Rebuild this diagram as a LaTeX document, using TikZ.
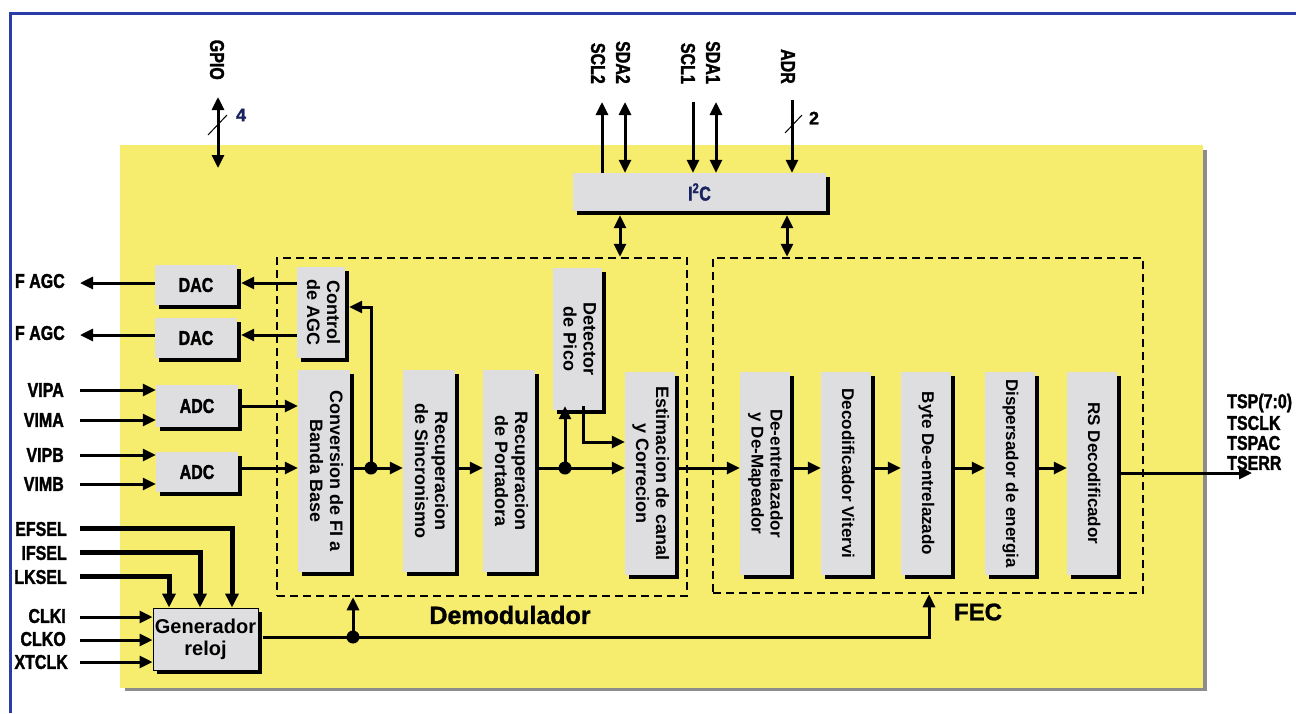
\documentclass[tikz,border=0pt]{standalone}
\usepackage{fontspec}
\setmainfont{Liberation Sans}
\newfontfamily\cond[FakeStretch=0.8,FakeBold=1.5]{Liberation Sans}
\newfontfamily\heavyfont[FakeBold=1.2]{Liberation Sans}
\usepackage{graphicx}
\usetikzlibrary{arrows.meta,shadows}
\definecolor{bgyellow}{RGB}{246,236,110}
\definecolor{boxgray}{RGB}{222,222,224}
\definecolor{frameblue}{RGB}{40,60,170}
\definecolor{navy}{RGB}{25,35,95}
\newcommand{\vstack}[1]{\rotatebox{-90}{\begin{tabular}{@{}c@{}}#1\end{tabular}}}
\tikzset{
 tip/.tip={Triangle[length=13pt,width=12pt]},
 pin/.style={line width=3pt, -tip},
 dpin/.style={line width=3pt, tip-tip},
 wire/.style={line width=3pt},
 heavy/.style={line width=5pt, -{Triangle[length=14pt,width=13pt]}},
 blk/.style={fill=boxgray, inner sep=0pt, drop shadow={shadow xshift=4pt, shadow yshift=-4pt, fill=black, opacity=1}},
 dashbox/.style={draw=black, line width=2.5pt, dash pattern=on 8pt off 5pt, inner sep=0pt},
 lbl/.style={font=\cond\bfseries\fontsize{20}{22}\selectfont, inner sep=0pt},
 vtxt/.style={font=\bfseries\fontsize{18}{20}\selectfont},
 ftxt/.style={font=\bfseries\fontsize{17}{19}\selectfont},
 jdot/.style={circle, fill=black, minimum size=13pt, inner sep=0pt},
 slash/.style={line width=1pt},
}
\begin{document}
\begin{tikzpicture}[x=1pt,y=-1pt]
\useasboundingbox (0,0) rectangle (1296,713);
% background
\fill[bgyellow] (120,145) rectangle (1203,688);
\fill[black!45] (1203,150) rectangle (1207,691);
\fill[black!45] (125,688) rectangle (1207,691);
\draw[frameblue, line width=3pt] (1296,13) -- (10,13) -- (10,713);

% dashed groups
\node[dashbox, minimum width=410pt, minimum height=338pt] (demod) at (482,427) {};
\node[dashbox, minimum width=430pt, minimum height=335pt] (fec) at (928,425.5) {};

% blocks
\node[blk, minimum width=82pt, minimum height=40pt, lbl] (dac1) at (196,285) {DAC};
\node[blk, minimum width=82pt, minimum height=40pt, lbl] (dac2) at (196,338) {DAC};
\node[blk, minimum width=82pt, minimum height=42pt, lbl] (adc1) at (197,406) {ADC};
\node[blk, minimum width=82pt, minimum height=40pt, lbl] (adc2) at (197,472) {ADC};
\node[blk, minimum width=253pt, minimum height=38pt, lbl, text=navy] (i2c) at (699.5,192) {I\textsuperscript{2}C};

\node[blk, minimum width=48pt, minimum height=91pt, vtxt] (ctrl) at (321,312.5) {\vstack{Control\\de AGC}};
\node[blk, minimum width=52pt, minimum height=202pt, vtxt] (conv) at (324,471) {\vstack{Conversion de FI a\\Banda Base}};
\node[blk, minimum width=52pt, minimum height=202pt, vtxt] (sinc) at (429,471) {\vstack{Recuperacion\\de Sincronismo}};
\node[blk, minimum width=52pt, minimum height=202pt, vtxt] (port) at (509,471) {\vstack{Recuperacion\\de Portadora}};
\node[blk, minimum width=49pt, minimum height=142pt, vtxt] (det) at (577.5,339) {\vstack{Detector\\de Pico}};
\node[blk, minimum width=50pt, minimum height=203pt, vtxt] (est) at (650,473.5) {\vstack{Estimacion de canal\\y Correcion}};

\node[blk, minimum width=50pt, minimum height=203pt, ftxt] (f1) at (765,473.5) {\vstack{De-entrelazador\\y De-Mapeador}};
\node[blk, minimum width=50pt, minimum height=203pt, ftxt] (f2) at (846,473.5) {\vstack{Decodificador Vitervi}};
\node[blk, minimum width=50pt, minimum height=203pt, ftxt] (f3) at (926,473.5) {\vstack{Byte De-entrelazado}};
\node[blk, minimum width=50pt, minimum height=203pt, ftxt] (f4) at (1010,473.5) {\vstack{Dispersador de energia}};
\node[blk, minimum width=50pt, minimum height=203pt, ftxt] (f5) at (1092,473.5) {\vstack{RS Decodificador}};

\node[blk, draw=black, line width=1pt, minimum width=105pt, minimum height=62pt, font=\bfseries\fontsize{20}{22}\selectfont, align=center] (gen) at (205.5,639) {Generador\\reloj};

% group labels
\node[font=\heavyfont\bfseries\fontsize{25}{27}\selectfont, inner sep=0pt] (demodlbl) at (510,615) {Demodulador};
\node[font=\heavyfont\bfseries\fontsize{24}{26}\selectfont, inner sep=0pt] (feclbl) at (978,612) {FEC};

% top labels
\node[lbl, rotate=-90, anchor=east] (gpio) at (217,80) {GPIO};
\node[lbl, rotate=-90, anchor=east] (scl2) at (598,84) {SCL2};
\node[lbl, rotate=-90, anchor=east] (sda2) at (623,84) {SDA2};
\node[lbl, rotate=-90, anchor=east] (scl1) at (688,84) {SCL1};
\node[lbl, rotate=-90, anchor=east] (sda1) at (713,84) {SDA1};
\node[lbl, rotate=-90, anchor=east] (adr) at (788,84) {ADR};
\node[font=\heavyfont\bfseries\fontsize{18}{20}\selectfont, text=navy, inner sep=0pt] (n4) at (241,115) {4};
\node[font=\heavyfont\bfseries\fontsize{18}{20}\selectfont, inner sep=0pt] (n2) at (814,118) {2};

% left labels
\node[lbl, anchor=east] (fagc1) at (65,281) {F AGC};
\node[lbl, anchor=east] (fagc2) at (65,333) {F AGC};
\node[lbl, anchor=east] (vipa) at (64,390) {VIPA};
\node[lbl, anchor=east] (vima) at (64,420) {VIMA};
\node[lbl, anchor=east] (vipb) at (64,455) {VIPB};
\node[lbl, anchor=east] (vimb) at (64,484) {VIMB};
\node[lbl, anchor=east] (efsel) at (67,529) {EFSEL};
\node[lbl, anchor=east] (ifsel) at (67,553) {IFSEL};
\node[lbl, anchor=east] (lksel) at (67,577) {LKSEL};
\node[lbl, anchor=east] (clki) at (66,616) {CLKI};
\node[lbl, anchor=east] (clko) at (66,639) {CLKO};
\node[lbl, anchor=east] (xtclk) at (68,662) {XTCLK};

% right labels
\node[lbl, anchor=west] (tsp) at (1227,403) {TSP(7:0)};
\node[lbl, anchor=west] (tsclk) at (1227,423) {TSCLK};
\node[lbl, anchor=west] (tspac) at (1227,443) {TSPAC};
\node[lbl, anchor=west] (tserr) at (1227,463) {TSERR};

% ---- coordinates
\coordinate (gpioT) at (218,97);
\coordinate (gpioB) at (218,168);
\coordinate (scl2T) at (602,102);
\coordinate (sda2T) at (625,102);
\coordinate (scl1T) at (693,102);
\coordinate (sda1T) at (716,102);
\coordinate (adrT) at (792,100);
\coordinate (bd) at (620,0);
\coordinate (bf) at (787,0);
\coordinate (fagc1p) at (80,283);
\coordinate (fagc2p) at (80,335);
\coordinate (vipap) at (80,390);
\coordinate (vimap) at (80,420);
\coordinate (vipbp) at (80,455);
\coordinate (vimbp) at (80,484);
\coordinate (efsA) at (80,528);
\coordinate (efsB) at (232,528);
\coordinate (ifsA) at (80,552);
\coordinate (ifsB) at (200,552);
\coordinate (lksA) at (80,576);
\coordinate (lksB) at (169,576);
\coordinate (clkip) at (80,617);
\coordinate (clkop) at (80,640);
\coordinate (xtclkp) at (80,662);
\coordinate (row) at (0,468);
\coordinate (fb) at (371,307);
\node[jdot] (j1) at (371,468) {};
\node[jdot] (j2) at (565,468) {};
\coordinate (dk) at (583,442);
\coordinate (outp) at (1252,473);
\coordinate (gy) at (0,637);
\node[jdot] (j3) at (353,637) {};
\coordinate (gf) at (929,637);

% ---- connectors
\draw[dpin] (gpioT) -- (gpioB);
\draw[slash] (208,135) -- (227,115);
\draw[pin] (i2c.north -| scl2T) -- (scl2T);
\draw[dpin] (sda2T) -- (i2c.north -| sda2T);
\draw[pin] (scl1T) -- (i2c.north -| scl1T);
\draw[dpin] (sda1T) -- (i2c.north -| sda1T);
\draw[pin] (adrT) -- (i2c.north -| adrT);
\draw[slash] (785,133) -- (802,115);
\draw[dpin] ([yshift=-4pt]i2c.south -| bd) -- (demod.north -| bd);
\draw[dpin] ([yshift=-4pt]i2c.south -| bf) -- (fec.north -| bf);

\draw[pin] (dac1.west |- fagc1p) -- (fagc1p);
\draw[pin] (dac2.west |- fagc2p) -- (fagc2p);
\draw[pin] (vipap) -- (adc1.west |- vipap);
\draw[pin] (vimap) -- (adc1.west |- vimap);
\draw[pin] (vipbp) -- (adc2.west |- vipbp);
\draw[pin] (vimbp) -- (adc2.west |- vimbp);
\draw[pin] (ctrl.west |- fagc1p) -- ([xshift=4pt]dac1.east |- fagc1p);
\draw[pin] (ctrl.west |- fagc2p) -- ([xshift=4pt]dac2.east |- fagc2p);
\draw[pin] ([xshift=4pt]adc1.east) -- (adc1.east -| conv.west);
\draw[pin] ([xshift=4pt]adc2.east |- row) -- (conv.west |- row);

\draw[pin] ([xshift=4pt]conv.east |- row) -- (sinc.west |- row);
\draw[pin] (j1.center) -- (fb) -- ([xshift=4pt]ctrl.east |- fb);
\draw[pin] ([xshift=4pt]sinc.east |- row) -- (port.west |- row);
\draw[pin] ([xshift=4pt]port.east |- row) -- (est.west |- row);
\draw[pin] (j2.center) -- ([yshift=4pt]det.south -| j2);
\draw[pin] ([yshift=4pt]det.south -| dk) -- (dk) -- (est.west |- dk);
\draw[pin] ([xshift=4pt]est.east |- row) -- (f1.west |- row);
\draw[pin] ([xshift=4pt]f1.east |- row) -- (f2.west |- row);
\draw[pin] ([xshift=4pt]f2.east |- row) -- (f3.west |- row);
\draw[pin] ([xshift=4pt]f3.east |- row) -- (f4.west |- row);
\draw[pin] ([xshift=4pt]f4.east |- row) -- (f5.west |- row);
\draw[pin] (f5.east |- outp) -- (outp);

\draw[heavy] (efsA) -- (efsB) -- (efsB |- gen.north);
\draw[heavy] (ifsA) -- (ifsB) -- (ifsB |- gen.north);
\draw[heavy] (lksA) -- (lksB) -- (lksB |- gen.north);
\draw[pin] (clkip) -- (gen.west |- clkip);
\draw[pin] (clkop) -- (gen.west |- clkop);
\draw[pin] (xtclkp) -- (gen.west |- xtclkp);
\draw[pin] ([xshift=4pt]gen.east |- gy) -- (gf) -- (fec.south -| gf);
\draw[pin] (j3.center) -- (demod.south -| j3);
\end{tikzpicture}
\end{document}
